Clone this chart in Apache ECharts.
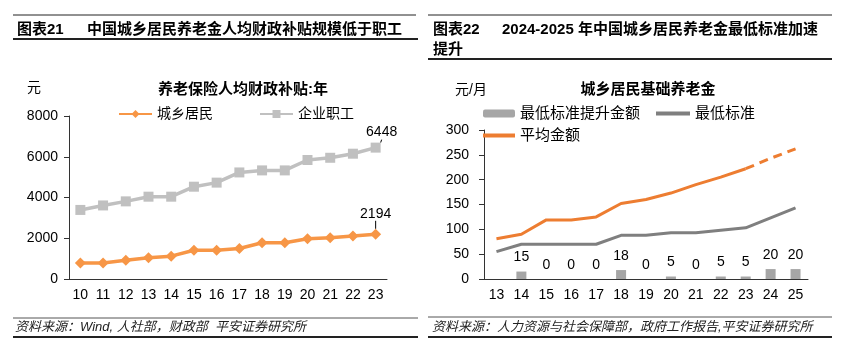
<!DOCTYPE html>
<html>
<head>
<meta charset="utf-8">
<script src="https://cdn.jsdelivr.net/npm/echarts@6/dist/echarts.min.js"></script>
<style>
  html, body { margin: 0; padding: 0; background: #fff; }
  #main { width: 847px; height: 353px; }
</style>
</head>
<body>
<div id="main"></div>
<script>
// 左图：养老保险人均财政补贴（元/年）
var years1 = ['10', '11', '12', '13', '14', '15', '16', '17', '18', '19', '20', '21', '22', '23'];
var resident1 = [780, 790, 917, 1040, 1120, 1410, 1410, 1500, 1780, 1780, 1980, 2030, 2110, 2194];
var worker1 = [3390, 3610, 3810, 4040, 4040, 4530, 4730, 5230, 5330, 5330, 5840, 5950, 6150, 6448];

// 右图：城乡居民基础养老金（元/月）
var years2 = ['13', '14', '15', '16', '17', '18', '19', '20', '21', '22', '23', '24', '25'];
var raise2 = ['-', 15, 0, 0, 0, 18, 0, 5, 0, 5, 5, 20, 20];
var minStd2 = [55, 70, 70, 70, 70, 88, 88, 93, 93, 98, 103, 123, 143];
var avg2 = [81, 90, 119, 119, 125, 152, 160, 173, 190, 205, 222, '-', '-'];
var avgEst2 = ['-', '-', '-', '-', '-', '-', '-', '-', '-', '-', 222, 243, 262];

var FONT = "'Liberation Sans', 'Noto Sans CJK SC', sans-serif";
var AXIS = '#333';

function lastLabel(arr) {
  return arr.map(function (v, i) {
    if (i !== arr.length - 1) return v;
    return { value: v, label: { show: true, position: 'top', fontSize: 14, color: '#000', fontFamily: FONT } };
  });
}

var myChart = echarts.init(document.getElementById('main'));

var legendText = { fontSize: 15, color: '#000', fontFamily: FONT };

var option = {
  backgroundColor: '#fff',
  animation: false,
  textStyle: { fontFamily: FONT },
  title: [
    {
      text: '养老保险人均财政补贴:年', left: 238, top: 77, textAlign: 'center',
      textStyle: { fontSize: 15, fontWeight: 'bold', color: '#000', fontFamily: FONT }
    },
    {
      text: '城乡居民基础养老金', left: 643, top: 77, textAlign: 'center',
      textStyle: { fontSize: 15, fontWeight: 'bold', color: '#000', fontFamily: FONT }
    }
  ],
  legend: [
    {
      data: ['城乡居民', '企业职工'], left: 113, top: 102, itemWidth: 33, itemHeight: 10, itemGap: 46,
      textStyle: { fontSize: 14, color: '#000', fontFamily: FONT }
    },
    {
      data: ['最低标准提升金额'], left: 478, top: 101, itemWidth: 32, itemHeight: 8,
      textStyle: legendText
    },
    {
      data: [{ name: '最低标准', icon: 'rect' }], left: 651, top: 101, itemWidth: 34, itemHeight: 4,
      textStyle: legendText
    },
    {
      data: [{ name: '平均金额', icon: 'rect' }], left: 478, top: 123, itemWidth: 32, itemHeight: 4,
      textStyle: legendText
    }
  ],
  grid: [
    { left: 69, top: 116, width: 318, height: 163 },
    { left: 484, top: 130, width: 324, height: 149 }
  ],
  xAxis: [
    {
      type: 'category', gridIndex: 0, data: years1,
      axisLine: { lineStyle: { color: AXIS } },
      axisTick: { length: 5, lineStyle: { color: AXIS } },
      axisLabel: { fontSize: 14, color: '#000', margin: 9 }
    },
    {
      type: 'category', gridIndex: 1, data: years2,
      axisLine: { lineStyle: { color: AXIS } },
      axisTick: { length: 5, lineStyle: { color: AXIS } },
      axisLabel: { fontSize: 14, color: '#000', margin: 9 }
    }
  ],
  yAxis: [
    {
      type: 'value', gridIndex: 0, min: 0, max: 8000, interval: 2000,
      axisLine: { show: true, lineStyle: { color: AXIS } },
      axisTick: { show: true, length: 5, lineStyle: { color: AXIS } },
      axisLabel: { fontSize: 14, color: '#000', margin: 11, formatter: function (v) { return String(v); } },
      splitLine: { show: false }
    },
    {
      type: 'value', gridIndex: 1, min: 0, max: 300, interval: 50,
      axisLine: { show: true, lineStyle: { color: AXIS } },
      axisTick: { show: true, length: 5, lineStyle: { color: AXIS } },
      axisLabel: { fontSize: 14, color: '#000', margin: 15 },
      splitLine: { show: false }
    }
  ],
  series: [
    {
      name: '城乡居民', type: 'line', xAxisIndex: 0, yAxisIndex: 0,
      data: lastLabel(resident1),
      symbol: 'diamond', symbolSize: 11,
      itemStyle: { color: '#F79646' },
      lineStyle: { color: '#F79646', width: 3.5 },
      labelLayout: { dy: -3 },
      labelLine: { show: true, lineStyle: { color: '#000', width: 1 } }
    },
    {
      name: '企业职工', type: 'line', xAxisIndex: 0, yAxisIndex: 0,
      data: lastLabel(worker1),
      symbol: 'rect', symbolSize: 10,
      itemStyle: { color: '#C0C0C0' },
      lineStyle: { color: '#C0C0C0', width: 3.5 },
      labelLayout: { dx: 6, dy: 2 },
      labelLine: { show: true, lineStyle: { color: '#000', width: 1 } }
    },
    {
      name: '最低标准提升金额', type: 'bar', xAxisIndex: 1, yAxisIndex: 1,
      data: raise2, barWidth: 10,
      itemStyle: { color: '#A6A6A6' },
      label: { show: true, position: 'top', distance: 7, fontSize: 14, color: '#000' }
    },
    {
      name: '最低标准', type: 'line', xAxisIndex: 1, yAxisIndex: 1,
      data: minStd2, symbol: 'none',
      itemStyle: { color: '#7F7F7F' },
      lineStyle: { color: '#7F7F7F', width: 3 }
    },
    {
      name: '平均金额', type: 'line', xAxisIndex: 1, yAxisIndex: 1,
      data: avg2, symbol: 'none',
      itemStyle: { color: '#ED7D31' },
      lineStyle: { color: '#ED7D31', width: 3 }
    },
    {
      name: '平均金额', type: 'line', xAxisIndex: 1, yAxisIndex: 1,
      data: avgEst2, symbol: 'none',
      itemStyle: { color: '#ED7D31' },
      lineStyle: { color: '#ED7D31', width: 3, type: [9, 6] }
    }
  ],
  graphic: [
    // 左侧标题栏
    { type: 'line', shape: { x1: 13, y1: 15, x2: 416, y2: 15 }, style: { stroke: '#222', lineWidth: 1 } },
    { type: 'line', shape: { x1: 13, y1: 39, x2: 418, y2: 39 }, style: { stroke: '#222', lineWidth: 2 } },
    { type: 'text', style: { x: 17, y: 30, text: '图表21', font: 'bold 15px ' + FONT, fill: '#000', verticalAlign: 'middle' } },
    { type: 'text', style: { x: 87, y: 30, text: '中国城乡居民养老金人均财政补贴规模低于职工', font: 'bold 15px ' + FONT, fill: '#000', verticalAlign: 'middle' } },
    { type: 'text', style: { x: 27, y: 88, text: '元', font: '14px ' + FONT, fill: '#000', verticalAlign: 'middle' } },
    // 右侧标题栏
    { type: 'line', shape: { x1: 428, y1: 15, x2: 832, y2: 15 }, style: { stroke: '#222', lineWidth: 1 } },
    { type: 'line', shape: { x1: 428, y1: 59, x2: 832, y2: 59 }, style: { stroke: '#222', lineWidth: 2 } },
    { type: 'text', style: { x: 433, y: 30, text: '图表22', font: 'bold 15px ' + FONT, fill: '#000', verticalAlign: 'middle' } },
    { type: 'text', style: { x: 502, y: 30, text: '2024-2025 年中国城乡居民养老金最低标准加速', font: 'bold 15px ' + FONT, fill: '#000', verticalAlign: 'middle' } },
    { type: 'text', style: { x: 433, y: 50, text: '提升', font: 'bold 15px ' + FONT, fill: '#000', verticalAlign: 'middle' } },
    { type: 'text', style: { x: 455, y: 90, text: '元/月', font: '14px ' + FONT, fill: '#000', verticalAlign: 'middle' } },
    // 资料来源
    { type: 'line', shape: { x1: 13, y1: 318, x2: 418, y2: 318 }, style: { stroke: '#555', lineWidth: 1 } },
    { type: 'line', shape: { x1: 13, y1: 337, x2: 418, y2: 337 }, style: { stroke: '#222', lineWidth: 2 } },
    { type: 'text', style: { x: 15, y: 327, text: '资料来源：Wind, 人社部，财政部  平安证券研究所', font: 'italic 13px ' + FONT, fill: '#222', verticalAlign: 'middle' } },
    { type: 'line', shape: { x1: 428, y1: 317, x2: 832, y2: 317 }, style: { stroke: '#555', lineWidth: 1 } },
    { type: 'line', shape: { x1: 428, y1: 337, x2: 832, y2: 337 }, style: { stroke: '#222', lineWidth: 2 } },
    { type: 'text', style: { x: 432, y: 327, text: '资料来源：人力资源与社会保障部，政府工作报告,平安证券研究所', font: 'italic 13px ' + FONT, fill: '#222', verticalAlign: 'middle' } }
  ]
};

myChart.setOption(option);
</script>
</body>
</html>
